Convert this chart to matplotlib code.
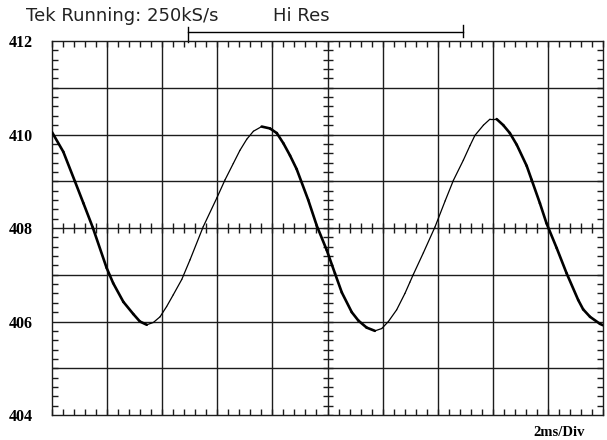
import numpy as np
import matplotlib
matplotlib.use("Agg")
import matplotlib.pyplot as plt
from matplotlib.collections import LineCollection
from matplotlib.ticker import MultipleLocator

# trace: time in ms, level in counts
time_ms = [0.0, 0.41, 0.83, 1.14, 1.48, 1.98, 2.22, 2.59, 2.95, 3.19,
           3.44, 3.68, 3.92, 4.16, 4.40, 4.71, 5.01, 5.49, 5.98, 6.28,
           6.58, 6.82, 7.07, 7.31, 7.61, 7.91, 8.16, 8.40, 8.64, 8.88,
           9.30, 9.61, 9.97, 10.27, 10.52, 10.88, 11.12, 11.42, 11.72, 11.97,
           12.21, 12.51, 12.81, 12.99, 13.11, 13.48, 13.90, 14.27, 14.57, 14.93,
           15.17, 15.35, 15.66, 15.90, 16.14, 16.38, 16.62, 16.87, 17.23, 17.41,
           17.71, 17.95, 18.32, 18.68, 19.10, 19.28, 19.53, 19.89, 20.0]
level = [410.05, 409.63, 409.00, 408.53, 408.01, 407.15, 406.82, 406.42, 406.16, 406.00,
         405.93, 405.98, 406.10, 406.32, 406.57, 406.90, 407.32, 408.03, 408.64, 409.03,
         409.38, 409.66, 409.90, 410.07, 410.17, 410.13, 410.03, 409.81, 409.55, 409.26,
         408.60, 408.05, 407.53, 407.03, 406.62, 406.20, 406.02, 405.87, 405.80, 405.85,
         406.00, 406.25, 406.60, 406.84, 407.00, 407.47, 408.02, 408.58, 409.02, 409.45,
         409.76, 409.98, 410.20, 410.33, 410.33, 410.20, 410.03, 409.78, 409.33, 409.03,
         408.53, 408.10, 407.57, 407.03, 406.46, 406.26, 406.10, 405.95, 405.92]

y_labels = [404, 406, 408, 410, 412]
header = "Tek Running: 250kS/s"
mode = "Hi Res"
timebase = "2ms/Div"
record_start, record_end = 4.94, 14.92   # ms, bracket above the screen

x_min, x_max, x_div = 0, 20, 2
y_min, y_max, y_div = 404, 412, 1

fig = plt.figure(figsize=(6.07, 4.40), dpi=100)
ax = fig.add_axes([0.0857, 0.0568, 0.9077, 0.85])
ax.set_xlim(x_min, x_max)
ax.set_ylim(y_min, y_max)

grid_col = "#1c1c1c"
for gx in np.arange(x_min + x_div, x_max, x_div):
    ax.axvline(gx, color=grid_col, lw=1.0, zorder=1)
for gy in np.arange(y_min + y_div, y_max, y_div):
    ax.axhline(gy, color=grid_col, lw=1.0, zorder=1)
for s in ax.spines.values():
    s.set_color(grid_col)
    s.set_linewidth(1.0)

# centre cross graticule ticks
xc = (x_min + x_max) / 2
yc = (y_min + y_max) / 2
ax.plot(np.arange(x_min, x_max + 0.01, x_div / 5), np.full(51, yc), ls="none",
        marker="|", ms=7, mew=1.0, color=grid_col, zorder=2)
ax.plot(np.full(41, xc), np.arange(y_min, y_max + 0.01, y_div / 5), ls="none",
        marker="_", ms=7, mew=1.0, color=grid_col, zorder=2)

# border ticks
ax.xaxis.set_minor_locator(MultipleLocator(x_div / 5))
ax.yaxis.set_minor_locator(MultipleLocator(y_div / 5))
ax.set_xticks([])
ax.set_yticks(y_labels)
ax.set_yticklabels([str(v) for v in y_labels], family="Liberation Serif",
                   fontweight="bold", fontsize=11.5)
ax.tick_params(which="major", length=0, pad=14)
ax.tick_params(which="minor", direction="in", length=4, width=1.0, color=grid_col,
               top=True, bottom=True, left=True, right=True)

# trace: falling edges come out heavier on the screen copy
pts = np.column_stack([time_ms, level])
segs = np.stack([pts[:-1], pts[1:]], axis=1)
widths = np.where(np.diff(level) < 0, 1.9, 0.9)
ax.add_collection(LineCollection(segs, colors="black", linewidths=widths,
                                 capstyle="round", joinstyle="round", zorder=3))

# header and record bracket
fig.text(26 / 607, 1 - 16 / 440, header, family="DejaVu Sans", fontsize=13,
         va="center", ha="left", color="#222222")
fig.text(273 / 607, 1 - 16 / 440, mode, family="DejaVu Sans", fontsize=13,
         va="center", ha="left", color="#222222")
bt = ax.get_xaxis_transform()
ax.plot([record_start, record_end], [1.024, 1.024], transform=bt, color="black",
        lw=1.0, clip_on=False)
ax.plot([record_start, record_start], [0.998, 1.038], transform=bt, color="black",
        lw=1.0, clip_on=False)
ax.plot([record_end, record_end], [1.01, 1.042], transform=bt, color="black",
        lw=1.0, clip_on=False)

fig.text(585 / 607, 1 - 432 / 440, timebase, family="Liberation Serif",
         fontweight="bold", fontsize=10.5, ha="right", va="center")

fig.savefig("out.png", dpi=100)
